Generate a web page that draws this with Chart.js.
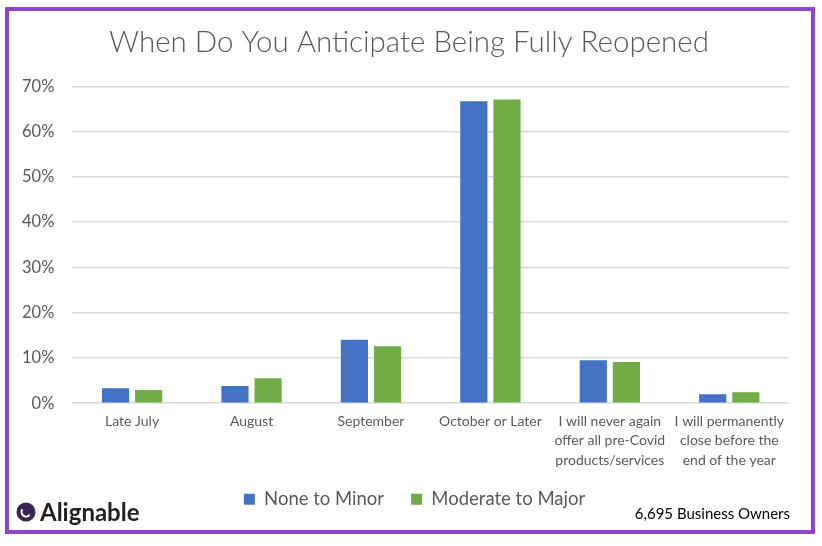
<!DOCTYPE html>
<html>
<head>
<meta charset="utf-8">
<script src="https://cdn.jsdelivr.net/npm/chart.js@4"></script>
<style>
  html, body { margin: 0; padding: 0; background: #fff; }
  #wrap { width: 822px; height: 546px; position: relative; }
</style>
</head>
<body>
<div id="wrap"><canvas id="chart" width="822" height="546"></canvas></div>
<script>
const categories = [
  ['Late July'],
  ['August'],
  ['September'],
  ['October or Later'],
  ['I will never again', 'offer all pre-Covid', 'products/services'],
  ['I will permanently', 'close before the', 'end of the year']
];
const noneToMinor = [3.3, 3.8, 14.0, 66.7, 9.5, 2.0];
const moderateToMajor = [2.9, 5.5, 12.6, 67.1, 9.1, 2.4];
const yMax = 70;
const yStep = 10;

const gray = '#595959';

// nudge the legend and title to where the original has them
const nudge = {
  id: 'nudge',
  afterLayout(chart) {
    const lg = chart.legend;
    lg.left += 36;
    lg.top = 463;
    lg.bottom = lg.top + 60;
    chart.titleBlock.left += 25;
  }
};

// purple frame, logo and respondent count
const frame = {
  id: 'frame',
  afterDraw(chart) {
    const ctx = chart.ctx;
    ctx.save();
    ctx.strokeStyle = '#8d46c9';
    ctx.lineWidth = 4;
    ctx.strokeRect(7, 9, 806, 523);

    // logo mark
    ctx.fillStyle = '#3b2354';
    ctx.beginPath();
    ctx.arc(26, 512, 9.5, 0, Math.PI * 2);
    ctx.fill();
    ctx.strokeStyle = '#fff';
    ctx.lineWidth = 2;
    ctx.beginPath();
    ctx.arc(26, 512, 4.5, Math.PI * 0.2, Math.PI * 1.2);
    ctx.stroke();

    ctx.fillStyle = '#231f20';
    ctx.font = 'bold 24px Lato';
    ctx.textBaseline = 'alphabetic';
    ctx.textAlign = 'left';
    ctx.fillText('Alignable', 40, 521);

    ctx.fillStyle = '#000';
    ctx.font = '15px Lato';
    ctx.textAlign = 'right';
    ctx.fillText('6,695 Business Owners', 790, 519);
    ctx.restore();
  }
};

new Chart(document.getElementById('chart'), {
  type: 'bar',
  data: {
    labels: categories,
    datasets: [
      { label: 'None to Minor', data: noneToMinor, backgroundColor: '#4472c4' },
      { label: 'Moderate to Major', data: moderateToMajor, backgroundColor: '#70ad47' }
    ]
  },
  options: {
    responsive: false,
    animation: false,
    categoryPercentage: 0.555,
    barPercentage: 0.82,
    layout: { padding: { left: 4, right: 33, top: 4, bottom: 25 } },
    plugins: {
      title: {
        display: true,
        text: 'When Do You Anticipate Being Fully Reopened',
        color: gray,
        font: { family: 'Lato', size: 29.5, weight: 300 },
        padding: { top: 21, bottom: 26 }
      },
      legend: {
        position: 'bottom',
        maxHeight: 51,
        labels: {
          color: gray,
          font: { family: 'Lato', size: 18.5 },
          boxWidth: 11,
          boxHeight: 11,
          padding: 27
        }
      },
      tooltip: { enabled: false }
    },
    scales: {
      x: {
        grid: { display: false },
        border: { display: false },
        ticks: {
          color: gray,
          font: { family: 'Lato', size: 14, lineHeight: 1.4 },
          maxRotation: 0,
          autoSkip: false,
          padding: 0
        }
      },
      y: {
        min: 0,
        max: yMax,
        ticks: {
          stepSize: yStep,
          color: gray,
          font: { family: 'Lato', size: 16.5 },
          padding: 18,
          callback: v => v + '%'
        },
        grid: { color: '#d9d9d9', lineWidth: 1.5, drawTicks: false },
        border: { display: false }
      }
    }
  },
  plugins: [nudge, frame]
});
</script>
</body>
</html>
